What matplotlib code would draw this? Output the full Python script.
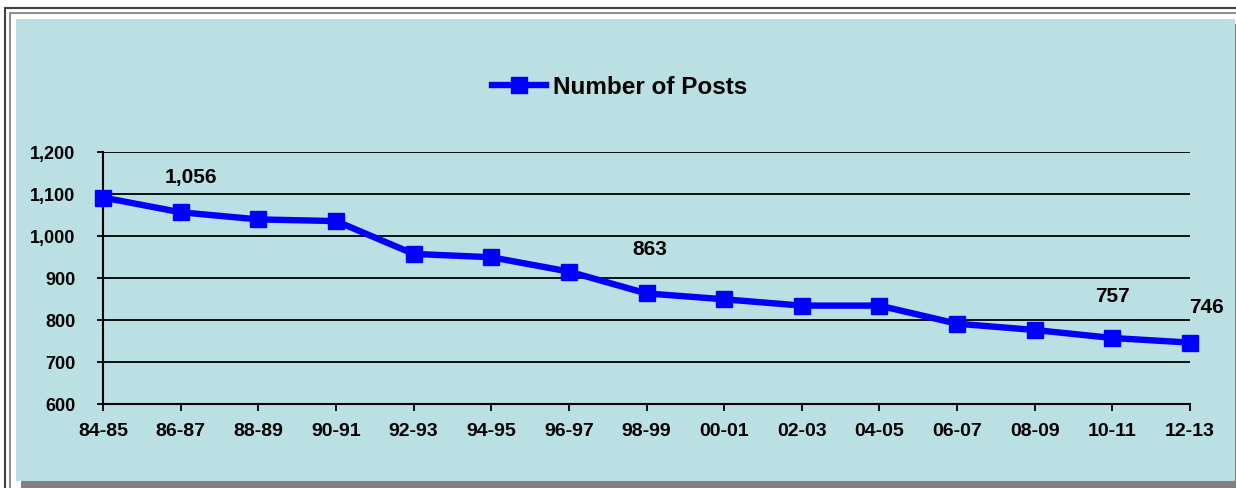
import matplotlib.pyplot as plt
from matplotlib.patches import Rectangle

years = ['84-85', '86-87', '88-89', '90-91', '92-93', '94-95', '96-97', '98-99',
         '00-01', '02-03', '04-05', '06-07', '08-09', '10-11', '12-13']
posts = [1091, 1056, 1039, 1035, 957, 949, 915, 863, 849, 834, 834, 791, 776, 757, 746]
# which points get a value label, and pixel offset of that label
labelled = {1: (10, 36), 7: (3, 45), 13: (0, 42), 14: (17, 36)}

W, H = 1236, 489
plt.rcParams['font.family'] = ['Liberation Sans', 'DejaVu Sans']
fig = plt.figure(figsize=(W / 100, H / 100), dpi=100, facecolor='white')

def box(x0, y0, x1, y1, **kw):
    # rectangle given in pixels from top-left, drawn behind the axes
    r = Rectangle((x0 / W, 1 - y1 / H), (x1 - x0) / W, (y1 - y0) / H,
                  transform=fig.transFigure, zorder=-5, **kw)
    fig.patches.append(r)

bg = '#bae0e3'
box(5, 9, 1250, 500, fill=False, ec='#404040', lw=1.5)
box(10, 14, 1250, 500, fill=False, ec='#909090', lw=1.5)
box(21, 25, 1241, 489, fc='#808080', ec='none')
box(16, 20, 1235, 482, fc=bg, ec='none')

ax = fig.add_axes((103 / W, 1 - 405 / H, (1190 - 103) / W, (405 - 152.7) / H))
ax.set_facecolor('none')
x = list(range(len(years)))
ax.plot(x, posts, color='#0000ff', lw=4.6, marker='s', markersize=11,
        solid_joinstyle='miter', label='Number of Posts', clip_on=False, zorder=3)

for i, (dx, dy) in labelled.items():
    ax.annotate(f'{posts[i]:,}', (x[i], posts[i]), xytext=(dx, dy), textcoords='offset pixels',
                ha='center', va='center', fontsize=15, fontweight='bold')

ax.set_xlim(0, len(years) - 1)
ax.set_ylim(600, 1200)
ax.set_yticks(range(600, 1201, 100))
ax.set_yticklabels([f'{v:,}' for v in range(600, 1201, 100)])
ax.set_xticks(x)
ax.set_xticklabels(years)
ax.yaxis.grid(True, color='black', lw=1.3)
ax.set_axisbelow(True)
for s in ['top', 'right']:
    ax.spines[s].set_visible(False)
for s in ['left', 'bottom']:
    ax.spines[s].set_linewidth(1.5)
ax.tick_params(axis='y', direction='out', length=4, width=1.3, pad=16, labelsize=13)
ax.tick_params(axis='x', direction='out', length=5, width=1.3, pad=8, labelsize=14)
for t in ax.get_xticklabels() + ax.get_yticklabels():
    t.set_fontweight('bold')

ax.legend(loc='center', bbox_to_anchor=(620 / W, 1 - 88 / H), bbox_transform=fig.transFigure,
          frameon=False, handlelength=2.2, handletextpad=0.3,
          prop={'weight': 'bold', 'size': 17.5})

fig.savefig('out.png', dpi=100, facecolor='white')
